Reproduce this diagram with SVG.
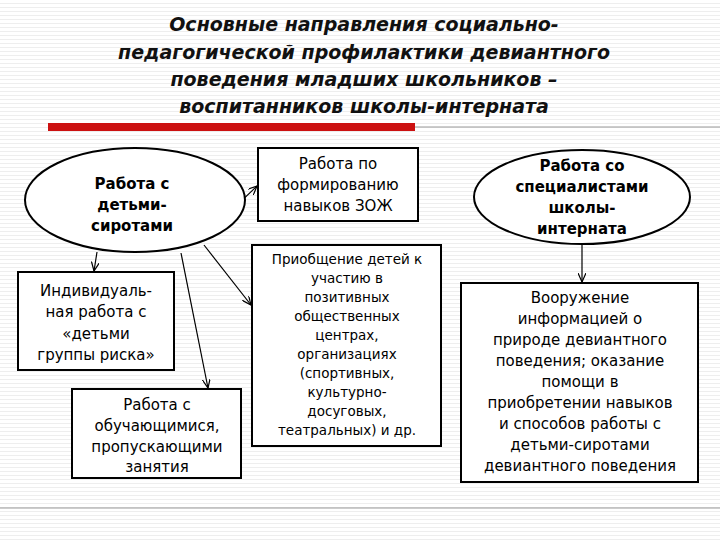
<svg xmlns="http://www.w3.org/2000/svg" width="720" height="540" viewBox="0 0 720 540">
<defs>
<marker id="ar" markerWidth="10" markerHeight="8" refX="9" refY="4" orient="auto" markerUnits="userSpaceOnUse"><path d="M0,0 L9,4 L0,8" fill="none" stroke="#000" stroke-width="1.2"/></marker>
<pattern id="st" width="4" height="4" patternUnits="userSpaceOnUse"><rect width="4" height="4" fill="#fff"/><rect y="3" width="4" height="1" fill="#eeeeee"/></pattern>
</defs>
<style>
.t{font-family:"DejaVu Sans",sans-serif;font-size:15px;text-anchor:middle;fill:#000}
.s{font-family:"DejaVu Sans",sans-serif;font-size:13.5px;text-anchor:middle;fill:#000}
.b{font-weight:bold}
.h{font-family:"DejaVu Sans",sans-serif;font-size:19px;font-weight:bold;font-style:italic;text-anchor:middle;fill:#111}
.n{fill:#fff;stroke:#000;stroke-width:2}
.c{stroke:#000;stroke-width:1.2;fill:none}
</style>
<rect width="720" height="540" fill="url(#st)"/>
<g id="title">
<text class="h" x="364" y="31">Основные направления социально-</text>
<text class="h" x="364" y="59">педагогической профилактики девиантного</text>
<text class="h" x="364" y="86">поведения младших школьников –</text>
<text class="h" x="364" y="113">воспитанников школы-интерната</text>
<rect x="48" y="123" width="367" height="8" fill="#cc1111"/>
<line x1="415" y1="127" x2="720" y2="127" stroke="#999" stroke-width="1"/>
</g>
<g id="connectors">
<line class="c" x1="235" y1="207" x2="257" y2="186" marker-end="url(#ar)"/>
<line class="c" x1="97" y1="252" x2="94" y2="271" marker-end="url(#ar)"/>
<line class="c" x1="181" y1="253" x2="208" y2="388" marker-end="url(#ar)"/>
<line class="c" x1="204" y1="245" x2="251" y2="305" marker-end="url(#ar)"/>
<line class="c" x1="582" y1="245" x2="582" y2="282" marker-end="url(#ar)"/>
</g>
<g id="n1"><ellipse class="n" cx="135" cy="200" rx="110" ry="52"/>
<text class="t b" x="132" y="189">Работа с</text><text class="t b" x="132" y="210">детьми-</text><text class="t b" x="132" y="231">сиротами</text></g>
<g id="n2"><rect class="n" x="258" y="148" width="160" height="73"/>
<text class="t" x="338" y="169">Работа по</text><text class="t" x="338" y="190">формированию</text><text class="t" x="338" y="211">навыков ЗОЖ</text></g>
<g id="n3"><ellipse class="n" cx="582" cy="197" rx="108" ry="47"/>
<text class="t b" x="582" y="171">Работа со</text><text class="t b" x="582" y="192">специалистами</text><text class="t b" x="582" y="213">школы-</text><text class="t b" x="582" y="234">интерната</text></g>
<g id="n4"><rect class="n" x="18" y="272" width="156" height="98"/>
<text class="t" x="96" y="296">Индивидуаль-</text><text class="t" x="96" y="317">ная работа с</text><text class="t" x="96" y="339">«детьми</text><text class="t" x="96" y="360">группы риска»</text></g>
<g id="n5"><rect class="n" x="72" y="389" width="169" height="89"/>
<text class="t" x="157" y="410">Работа с</text><text class="t" x="157" y="431">обучающимися,</text><text class="t" x="157" y="452">пропускающими</text><text class="t" x="157" y="472">занятия</text></g>
<g id="n6"><rect class="n" x="252" y="245" width="189" height="201"/>
<text class="s" x="347" y="264">Приобщение детей к</text><text class="s" x="347" y="283">участию в</text><text class="s" x="347" y="302">позитивных</text><text class="s" x="347" y="321">общественных</text><text class="s" x="347" y="340">центрах,</text><text class="s" x="347" y="359">организациях</text><text class="s" x="347" y="378">(спортивных,</text><text class="s" x="347" y="397">культурно-</text><text class="s" x="347" y="416">досуговых,</text><text class="s" x="347" y="435">театральных) и др.</text></g>
<g id="n7"><rect class="n" x="461" y="283" width="237" height="199"/>
<text class="t" x="580" y="303">Вооружение</text><text class="t" x="580" y="324">информацией о</text><text class="t" x="580" y="345">природе девиантного</text><text class="t" x="580" y="366">поведения; оказание</text><text class="t" x="580" y="387">помощи в</text><text class="t" x="580" y="408">приобретении навыков</text><text class="t" x="580" y="429">и способов работы с</text><text class="t" x="580" y="450">детьми-сиротами</text><text class="t" x="580" y="471">девиантного поведения</text></g>
<line x1="0" y1="508" x2="720" y2="508" stroke="#999" stroke-width="1"/>
</svg>
